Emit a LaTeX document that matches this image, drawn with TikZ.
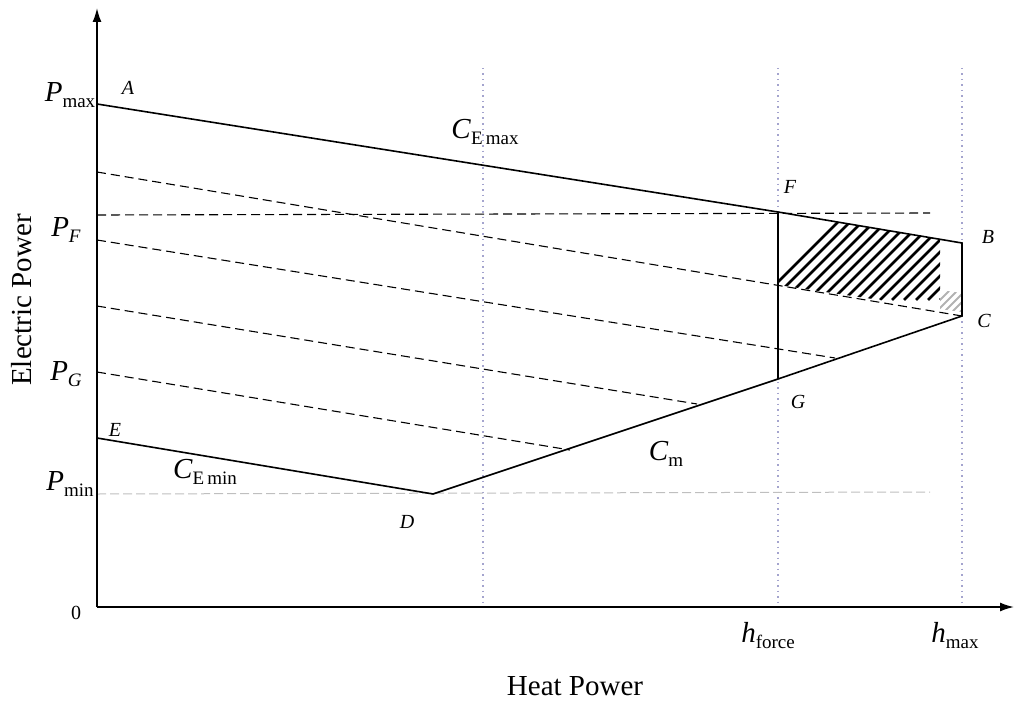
\documentclass[tikz,border=0pt]{standalone}
\usepackage{fontspec}
\setmainfont{Liberation Serif}
\usetikzlibrary{arrows.meta}
\newcommand{\mysub}[1]{\raisebox{-6pt}{\fontsize{19}{19}\selectfont #1}}
\begin{document}
\begin{tikzpicture}[x=1pt,y=-1pt,
  axis/.style={line width=1.6pt,-{Latex[length=14pt,width=9pt]}},
  bound/.style={line width=1.6pt},
  dline/.style={line width=1.1pt,dash pattern=on 9pt off 5pt},
  vdot/.style={line width=1.5pt,dash pattern=on 1.5pt off 4pt,color=blue!30!gray!55},
  gline/.style={line width=1pt,dash pattern=on 9pt off 4pt,color=gray!50},
  hatch/.style={line width=2.6pt},
  pt/.style={font=\fontsize{20}{20}\selectfont\itshape},
  lab/.style={font=\fontsize{29}{29}\selectfont}]
\useasboundingbox (0,0) rectangle (1024,706);
\coordinate (O) at (97,607);
\coordinate (Ytop) at (97,8);
\coordinate (Xend) at (1014,607);
\coordinate (A) at (97,104);
\coordinate (F) at (778,212);
\coordinate (B) at (962,243);
\coordinate (C) at (962,316);
\coordinate (G) at (778,379);
\coordinate (D) at (433,494);
\coordinate (E) at (97,438);
% hatch
\begin{scope}
\clip (F) -- (940,239) -- (940,309) -- (778,285) -- cycle;
\foreach \k in {0,...,30}{
  \draw[hatch] (760+12*\k,300) -- ++(100,-100);}
\end{scope}
\begin{scope}
\clip (940,290) -- (962,293) -- (962,312) -- (940,309) -- cycle;
\foreach \k in {0,...,6}{
  \draw[hatch,gray!60,line width=2pt] (920+8*\k,320) -- ++(40,-40);}
\end{scope}
% dotted verticals
\foreach \xx/\nm in {483/v1,778/v2,962/v3}{
  \coordinate (\nm a) at (\xx,68); \coordinate (\nm b) at (\xx,607);
  \draw[vdot] (\nm a) -- (\nm b);}
\draw[gline] (97,494) -- (930,492);
% dashed
\draw[dline] (97,215) -- (930,213);
\draw[dline] (97,172) -- (C);
\draw[dline] (97,240) -- (835,358);
\draw[dline] (97,306) -- (697,404);
\draw[dline] (97,372) -- (570,450);
% boundary
\draw[bound] (A) -- (F) -- (B) -- (C) -- (G) -- (D) -- (E);
\draw[bound] (F) -- (G);
% axes
\draw[axis] (O) -- (Ytop);
\draw[axis] (O) -- (Xend);
% labels
\node[lab,anchor=base] (pmax) at (70,102) {\textit{P}\mysub{max}};
\node[lab,anchor=base] (pf) at (66,236) {\textit{P}\mysub{\textit{F}}};
\node[lab,anchor=base] (pg) at (66,380) {\textit{P}\mysub{\textit{G}}};
\node[lab,anchor=base] (pmin) at (70,490) {\textit{P}\mysub{min}};
\node[font=\fontsize{20}{20}\selectfont] (zero) at (76,613) {0};
\node[lab,anchor=base] (hf) at (768,642) {\textit{h}\mysub{force}};
\node[lab,anchor=base] (hm) at (955,642) {\textit{h}\mysub{max}};
\node[lab] (hp) at (575,686) {Heat Power};
\node[lab,rotate=90] (ep) at (22,300) {Electric Power};
\node[pt] (lA) at (128,88) {A};
\node[pt] (lF) at (790,187) {F};
\node[pt] (lB) at (988,237) {B};
\node[pt] (lC) at (984,321) {C};
\node[pt] (lG) at (798,402) {G};
\node[pt] (lD) at (407,522) {D};
\node[pt] (lE) at (115,430) {E};
\node[lab,anchor=base] (ce1) at (485,138) {\textit{C}\mysub{E\,max}};
\node[lab,anchor=base] (cm) at (666,460) {\textit{C}\mysub{m}};
\node[lab,anchor=base] (ce2) at (205,478) {\textit{C}\mysub{E\,min}};
\end{tikzpicture}
\end{document}
